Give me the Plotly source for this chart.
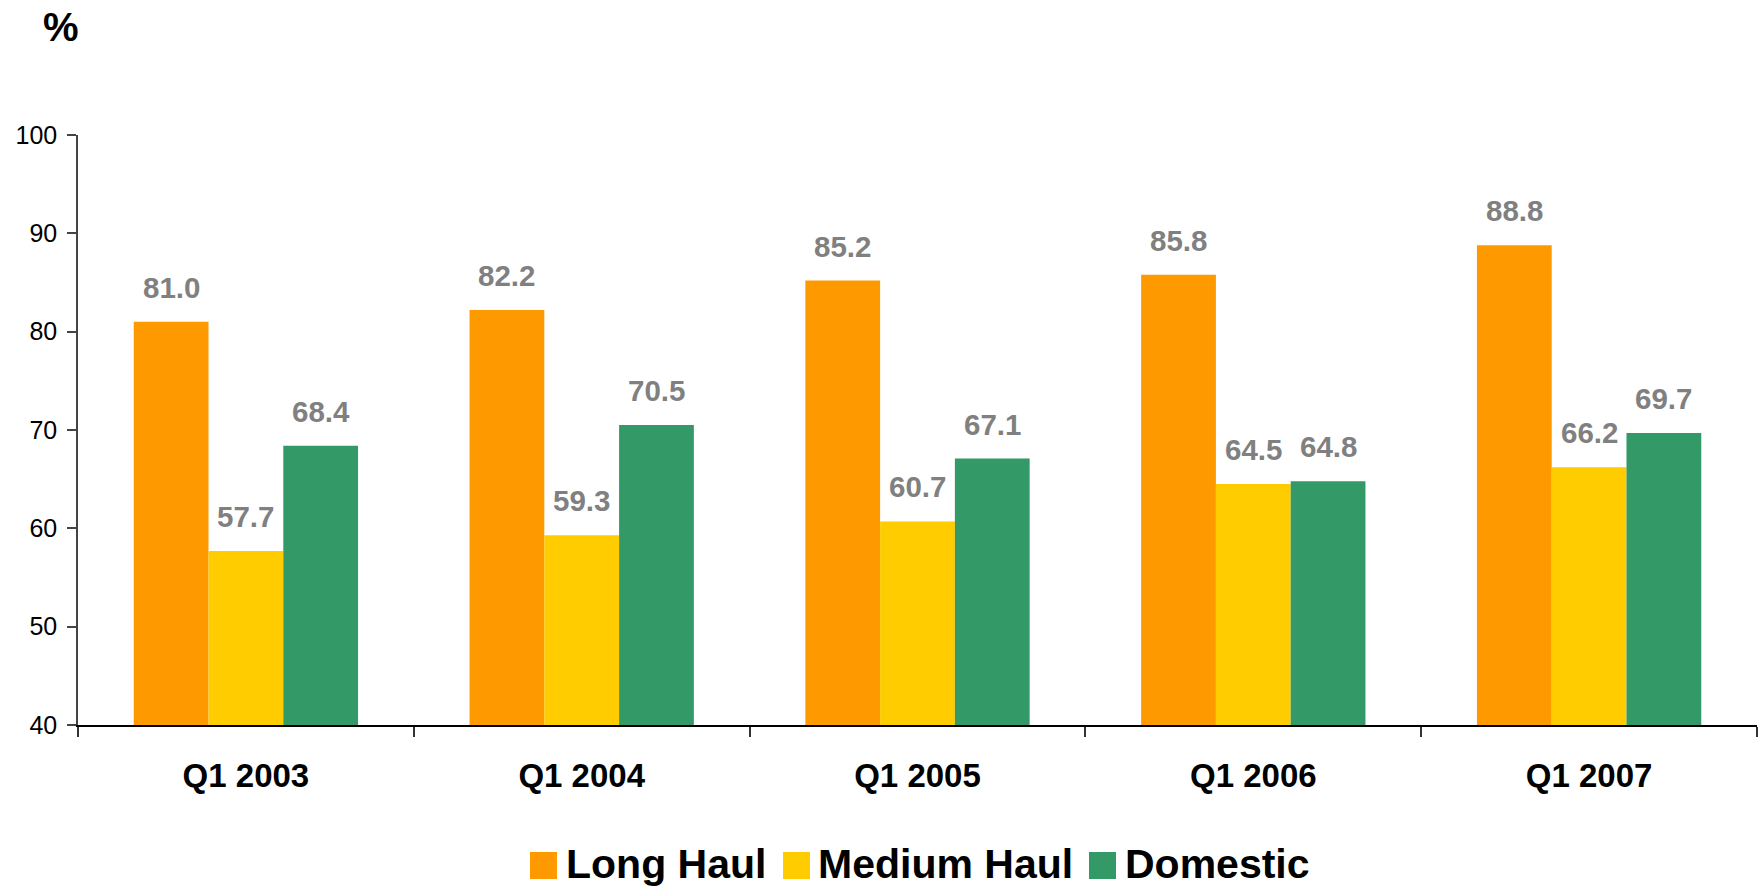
import plotly.graph_objects as go

categories = ["Q1 2003", "Q1 2004", "Q1 2005", "Q1 2006", "Q1 2007"]
long_haul = [81.0, 82.2, 85.2, 85.8, 88.8]
medium_haul = [57.7, 59.3, 60.7, 64.5, 66.2]
domestic = [68.4, 70.5, 67.1, 64.8, 69.7]
series_names = ["Long Haul", "Medium Haul", "Domestic"]
series_colors = ["#FF9900", "#FFCC00", "#339966"]
y_ticks = [40, 50, 60, 70, 80, 90, 100]

series_values = [long_haul, medium_haul, domestic]

W, H = 1763, 887
L, R, T, B = 78, 6, 135, 162
PW, PH = W - L - R, H - T - B
FONT = "Liberation Sans, Arial, sans-serif"
BARGAP = 0.332

fig = go.Figure()
for name, vals, col in zip(series_names, series_values, series_colors):
    fig.add_trace(go.Bar(x=categories, y=vals, name=name, marker_color=col,
                         marker_line_width=0, showlegend=False))

# value labels
cat_px = PW / len(categories)
bar_px = cat_px * (1 - BARGAP) / len(series_names)
for i, vals in enumerate(series_values):
    for c, v in zip(categories, vals):
        fig.add_annotation(x=c, y=v, xref="x", yref="y", text=f"{v:.1f}",
                           showarrow=False, yanchor="bottom",
                           xshift=(i - 1) * bar_px, yshift=16,
                           font=dict(family=FONT, size=29.5, color="#808080", weight="bold"))

# "%" label
fig.add_annotation(x=(61 - L) / PW, y=(H - B - 27) / PH, xref="paper", yref="paper",
                   text="<b>%</b>", showarrow=False, xanchor="center", yanchor="middle",
                   font=dict(family=FONT, size=40, color="black"))

# custom legend
leg_sq_x = [530, 783, 1089]
leg_txt_x = [564, 816, 1123]
leg_y0, leg_y1 = 852, 879
for name, col, sx, tx in zip(series_names, series_colors, leg_sq_x, leg_txt_x):
    fig.add_shape(type="rect", xref="paper", yref="paper",
                  x0=(sx - L) / PW, x1=(sx + 27 - L) / PW,
                  y0=(H - B - leg_y1) / PH, y1=(H - B - leg_y0) / PH,
                  fillcolor=col, line_width=0)
    fig.add_annotation(x=(tx - L) / PW, y=(H - B - 864) / PH, xref="paper", yref="paper",
                       text=f"<b>{name}</b>", showarrow=False, xanchor="left", yanchor="middle",
                       font=dict(family=FONT, size=41, color="black"))

fig.update_layout(
    width=W, height=H,
    margin=dict(l=L, r=R, t=T, b=B),
    plot_bgcolor="white", paper_bgcolor="white",
    barmode="group", bargap=BARGAP, bargroupgap=0,
    showlegend=False,
    font=dict(family=FONT, color="black"),
)
fig.update_xaxes(
    range=[-0.5, len(categories) - 0.5],
    showline=True, linecolor="black", linewidth=2,
    ticks="outside", tickson="boundaries", ticklen=10, tickcolor="#333", tickwidth=1.5,
    tickfont=dict(family=FONT, size=33, color="black", weight="bold"),
    ticklabelstandoff=20,
    showgrid=False, zeroline=False,
)
fig.update_yaxes(
    range=[40, 100], tickvals=y_ticks,
    showline=True, linecolor="#444", linewidth=1.5,
    ticks="outside", ticklen=9, tickcolor="#444", tickwidth=1.5,
    tickfont=dict(family=FONT, size=25, color="black"),
    ticklabelstandoff=5,
    showgrid=False, zeroline=False,
)

fig.write_html("out.html", config={"displayModeBar": False},
               post_script="document.body.style.margin='0';document.body.style.overflow='hidden';")
